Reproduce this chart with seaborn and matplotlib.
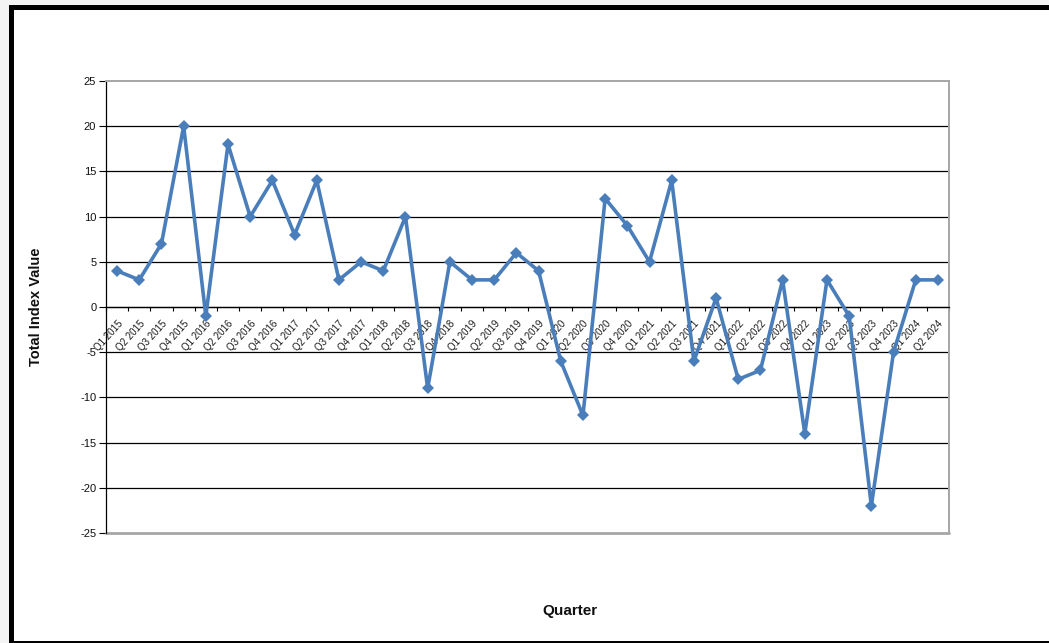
import numpy as np
import pandas as pd
import matplotlib
matplotlib.use("Agg")
import matplotlib.pyplot as plt
import matplotlib.patches as mpatches
import seaborn as sns

quarters = ["Q1 2015", "Q2 2015", "Q3 2015", "Q4 2015",
            "Q1 2016", "Q2 2016", "Q3 2016", "Q4 2016",
            "Q1 2017", "Q2 2017", "Q3 2017", "Q4 2017",
            "Q1 2018", "Q2 2018", "Q3 2018", "Q4 2018",
            "Q1 2019", "Q2 2019", "Q3 2019", "Q4 2019",
            "Q1 2020", "Q2 2020", "Q3 2020", "Q4 2020",
            "Q1 2021", "Q2 2021", "Q3 2021", "Q4 2021",
            "Q1 2022", "Q2 2022", "Q3 2022", "Q4 2022",
            "Q1 2023", "Q2 2023", "Q3 2023", "Q4 2023",
            "Q1 2024", "Q2 2024"]
values = [4, 3, 7, 20,
          -1, 18, 10, 14,
          8, 14, 3, 5,
          4, 10, -9, 5,
          3, 3, 6, 4,
          -6, -12, 12, 9,
          5, 14, -6, 1,
          -8, -7, 3, -14,
          3, -1, -22, -5,
          3, 3]
y_ticks = [-25, -20, -15, -10, -5, 0, 5, 10, 15, 20, 25]
y_tick_labels = ["-25", "-20", "-15", "-10", "-5", "0", "5", "10", "15", "20", "25"]

sns.set_theme(style="white")
plt.rcParams["font.family"] = ["Liberation Sans", "DejaVu Sans"]
plt.rcParams["axes.unicode_minus"] = False

W, H = 1049, 643
fig = plt.figure(figsize=(W / 100, H / 100), dpi=100)
fig.patch.set_facecolor("white")

def frame_rect(x0, y0, w, h, color):
    fig.patches.append(mpatches.Rectangle((x0 / W, 1 - (y0 + h) / H), w / W, h / H,
                                          transform=fig.transFigure, facecolor=color,
                                          edgecolor="none", zorder=-1))

# frame of the screenshot (pixel coords from top-left)
frame_rect(0, 0, W, 5, "#f4f4f4")
frame_rect(0, 0, 9, H, "#f4f4f4")
frame_rect(9, 5, W - 9, 5, "black")
frame_rect(9, 5, 5, H - 5, "black")
frame_rect(9, H - 2.2, W - 9, 2, "black")

ax = fig.add_axes([106 / W, 1 - 533 / H, (949 - 106) / W, (533 - 81) / H])
ax.set_facecolor("white")

df = pd.DataFrame({"Quarter": quarters, "Value": values})
df["idx"] = np.arange(len(quarters))
sns.lineplot(data=df, x="idx", y="Value", ax=ax, color="#4A7EBB",
             linewidth=2.6, marker="D", markersize=6.5, markeredgewidth=0,
             sort=False, zorder=5)

ax.set_xlim(-0.5, len(quarters) - 0.5)
ax.set_ylim(-25, 25)
ax.set_yticks(y_ticks)
ax.set_yticklabels(y_tick_labels, fontsize=8, color="#111111")
ax.tick_params(axis="y", direction="out", length=5, width=0.8, color="black",
               pad=2, left=True)
ax.set_xlabel("")
ax.set_ylabel("")
for y in y_ticks[1:-1]:
    ax.axhline(y, color="black", linewidth=0.9, zorder=1)

for side in ["top", "right"]:
    ax.spines[side].set_color("#a6a6a6")
    ax.spines[side].set_linewidth(1.4)
ax.axhline(-25, color="#a6a6a6", linewidth=2.0, clip_on=False, zorder=2)
ax.spines["left"].set_color("black")
ax.spines["left"].set_linewidth(0.9)

# category axis crossing at zero
ax.spines["bottom"].set_position(("data", 0))
ax.spines["bottom"].set_color("black")
ax.spines["bottom"].set_linewidth(0.9)
ax.set_xticks(np.arange(len(quarters)))
ax.set_xticklabels(quarters, rotation=48, ha="right", va="top",
                   rotation_mode="anchor", fontsize=7, color="#1a1a1a")
ax.set_xticks(np.arange(len(quarters) + 1) - 0.5, minor=True)
ax.tick_params(axis="x", which="major", length=0, pad=8.5, bottom=True)
ax.tick_params(axis="x", which="minor", length=3, width=0.8, color="black",
               direction="out", bottom=True)

fig.text(36 / W, 1 - 307 / H, "Total Index Value", rotation=90, ha="center",
         va="center", fontsize=10.5, fontweight="bold", color="#111111")
fig.text(570 / W, 1 - 611 / H, "Quarter", ha="center", va="center",
         fontsize=11, fontweight="bold", color="#111111")

fig.savefig("out.png", dpi=100, facecolor=fig.get_facecolor())
